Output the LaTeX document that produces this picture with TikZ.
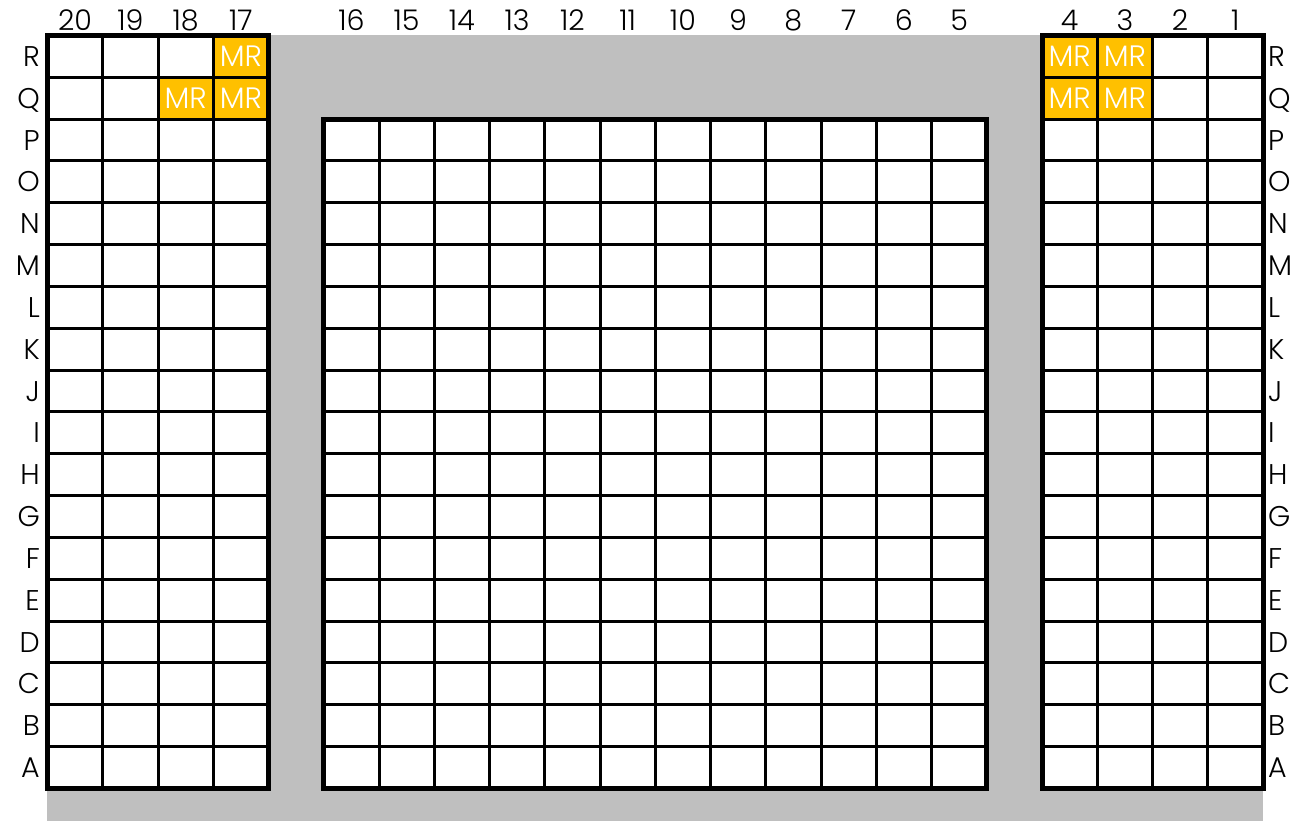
\documentclass[tikz,border=0pt]{standalone}
\usepackage{fontspec}
\IfFontExistsTF{Poppins Light}{\setmainfont{Poppins Light}}{\setmainfont{Poppins}}
\definecolor{bggray}{HTML}{BFBFBF}
\definecolor{mrorange}{HTML}{FFC000}
\def\W{55.25}
\def\H{41.83}
\def\XO{47.5}
\def\YO{35.5}
\begin{document}
\begin{tikzpicture}[x=1pt,y=-1pt,
  lbl/.style={font=\fontsize{28.5}{28.5}\selectfont, inner sep=0pt, text=black},
  mrcell/.style={fill=mrorange, draw=none, minimum width=\W pt, minimum height=\H pt, inner sep=0pt},
  mrtext/.style={font=\fontsize{29.5}{29.5}\selectfont, inner sep=0pt, text=white},
  gridline/.style={line width=3pt, black},
  blockborder/.style={line width=5pt, black, line join=miter},
]
\useasboundingbox (0,0) rectangle (1295,821);
\fill[bggray] (47,35) rectangle (1263,821);
% white blocks
\foreach \bs/\bn/\br in {0/4/0, 5/12/2, 18/4/0}{
  \pgfmathsetmacro\xa{\XO+\bs*\W}
  \pgfmathsetmacro\xb{\XO+(\bs+\bn)*\W}
  \pgfmathsetmacro\ya{\YO+\br*\H}
  \pgfmathsetmacro\yb{\YO+18*\H}
  \fill[white] (\xa,\ya) rectangle (\xb,\yb);
}
% orange MR cells
\foreach \bs/\br/\nm in {3/0/a, 2/1/b, 3/1/c, 18/0/d, 19/0/e, 18/1/f, 19/1/g}{
  \node[mrcell] (mr\nm) at ({\XO+(\bs+0.5)*\W},{\YO+(\br+0.5)*\H}) {};
  \node[mrtext, anchor=base] (mrt\nm) at ({\XO+(\bs+0.5)*\W},{\YO+(\br+0.5)*\H+10}) {MR};
}
% grid lines and borders
\foreach \bs/\bn/\br in {0/4/0, 5/12/2, 18/4/0}{
  \pgfmathsetmacro\xa{\XO+\bs*\W}
  \pgfmathsetmacro\xb{\XO+(\bs+\bn)*\W}
  \pgfmathsetmacro\ya{\YO+\br*\H}
  \pgfmathsetmacro\yb{\YO+18*\H}
  \pgfmathtruncatemacro\vlast{\bn-1}
  \pgfmathtruncatemacro\hfirst{\br+1}
  \foreach \i in {1,...,\vlast}{
    \draw[gridline] ({\xa+\i*\W},\ya) -- ({\xa+\i*\W},\yb);
  }
  \foreach \j in {\hfirst,...,17}{
    \draw[gridline] (\xa,{\YO+\j*\H}) -- (\xb,{\YO+\j*\H});
  }
  \draw[blockborder] (\xa,\ya) rectangle (\xb,\yb);
}
% row labels
\foreach \L [count=\i from 0] in {R,Q,P,O,N,M,L,K,J,I,H,G,F,E,D,C,B,A}{
  \node[lbl, anchor=base east] (left\L) at (40,{\YO+(\i+0.5)*\H+10}) {\L};
  \node[lbl, anchor=base west] (right\L) at (1268,{\YO+(\i+0.5)*\H+10}) {\L};
}
% column labels
\foreach \bs/\cl in {0/20,1/19,2/18,3/17,5/16,6/15,7/14,8/13,9/12,10/11,11/10,12/9,13/8,14/7,15/6,16/5,18/4,19/3,20/2,21/1}{
  \node[lbl, anchor=base] (col\cl) at ({\XO+(\bs+0.5)*\W},31) {\cl};
}
\end{tikzpicture}
\end{document}
